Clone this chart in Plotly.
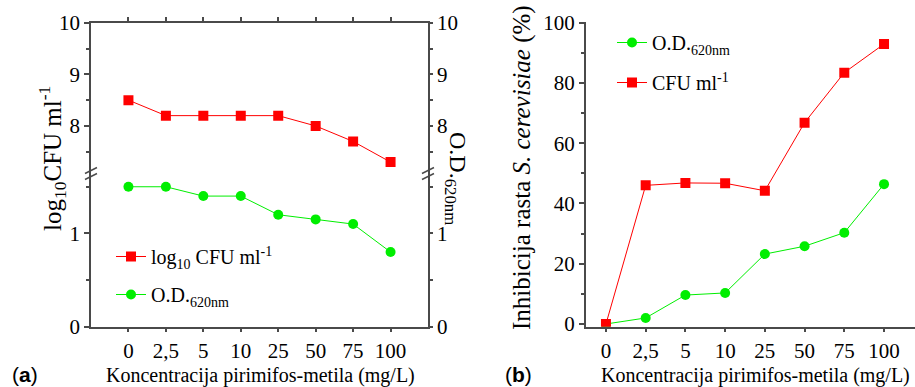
import plotly.graph_objects as go

# Pirimiphos-methyl concentration (mg/L), shown as evenly spaced categories
concentrations = ["0", "2,5", "5", "10", "25", "50", "75", "100"]

# (a) growth of S. cerevisiae
log_cfu = [8.5, 8.2, 8.2, 8.2, 8.2, 8.0, 7.7, 7.3]
od_620 = [1.50, 1.50, 1.40, 1.40, 1.20, 1.15, 1.10, 0.80]

# (b) growth inhibition (%)
inhib_od = [0.0, 2.0, 9.6, 10.3, 23.2, 25.8, 30.3, 46.4]
inhib_cfu = [0.0, 46.0, 46.8, 46.7, 44.2, 66.8, 83.4, 92.9]

W, H = 915, 387
SERIF = "Liberation Serif"
SANS = "Liberation Sans"
AXC = "#4a4a4a"
RED = "#ff0000"
GREEN = "#00ee00"


def px(x):
    return x / W


def py(y):
    return 1 - y / H


def axis(**kw):
    base = dict(
        showline=True, linecolor=AXC, linewidth=1.5,
        ticks="outside", tickcolor=AXC, tickwidth=1.5, ticklen=5,
        showgrid=False, zeroline=False, fixedrange=True, automargin=False,
        tickfont=dict(family=SERIF, size=21, color="black"),
    )
    base.update(kw)
    return base


def cat_axis(**kw):
    return axis(type="category", categoryorder="array",
                categoryarray=concentrations, **kw)


def minor(vals):
    return dict(tickvals=vals, ticks="outside", ticklen=3,
                tickcolor=AXC, tickwidth=1.5)


fig = go.Figure()

# ---- panel (a) ----
fig.add_trace(go.Scatter(
    x=concentrations, y=log_cfu, xaxis="x2", yaxis="y2",
    mode="lines+markers", name="log<sub>10</sub> CFU ml<sup>-1</sup>",
    line=dict(color=RED, width=1),
    marker=dict(symbol="square", size=10, color=RED),
    legend="legend", legendgroup="a_cfu",
))
fig.add_trace(go.Scatter(
    x=concentrations, y=od_620, xaxis="x", yaxis="y",
    mode="lines+markers", name="O.D.<sub>620nm</sub>",
    line=dict(color=GREEN, width=1),
    marker=dict(symbol="circle", size=10, color=GREEN),
    legend="legend", legendgroup="a_od",
))
# carriers for the right-hand axes of panel (a)
fig.add_trace(go.Scatter(
    x=concentrations, y=od_620, xaxis="x", yaxis="y3", mode="lines",
    line=dict(color="rgba(0,0,0,0)"), showlegend=False, hoverinfo="skip",
))
fig.add_trace(go.Scatter(
    x=concentrations, y=log_cfu, xaxis="x2", yaxis="y4", mode="lines",
    line=dict(color="rgba(0,0,0,0)"), showlegend=False, hoverinfo="skip",
))

# ---- panel (b) ----
fig.add_trace(go.Scatter(
    x=concentrations, y=inhib_od, xaxis="x3", yaxis="y5",
    mode="lines+markers", name="O.D.<sub>620nm</sub>",
    line=dict(color=GREEN, width=1),
    marker=dict(symbol="circle", size=10, color=GREEN),
    legend="legend2", legendgroup="b_od",
))
fig.add_trace(go.Scatter(
    x=concentrations, y=inhib_cfu, xaxis="x3", yaxis="y5",
    mode="lines+markers", name="CFU ml<sup>-1</sup>",
    line=dict(color=RED, width=1),
    marker=dict(symbol="square", size=10, color=RED),
    legend="legend2", legendgroup="b_cfu",
))

A_X = [px(91), px(428)]
A_LOW = [py(326.7), py(175)]
A_UP = [py(175), py(22.7)]
low_range = [0, 1.626]
up_range = [7.05, 10]

fig.update_layout(
    template="none",
    width=W, height=H,
    margin=dict(l=0, r=0, t=0, b=0, autoexpand=False),
    paper_bgcolor="white", plot_bgcolor="white",
    hovermode=False,
    xaxis=cat_axis(domain=A_X, anchor="y", range=[-1, 8], ticklen=4),
    xaxis2=cat_axis(domain=A_X, anchor="y2", side="top", range=[-1, 8],
                    showticklabels=False, ticklen=4),
    yaxis=axis(domain=A_LOW, anchor="x", range=low_range,
               tickvals=[0, 1], minor=minor([0.5, 1.5])),
    yaxis2=axis(domain=A_UP, anchor="x2", range=up_range,
                tickvals=[8, 9, 10], minor=minor([7.5, 8.5, 9.5])),
    yaxis3=axis(overlaying="y", side="right", anchor="x", range=low_range,
                tickvals=[0, 1], minor=minor([0.5, 1.5]), ticklen=3),
    yaxis4=axis(overlaying="y2", side="right", anchor="x2", range=up_range,
                tickvals=[8, 9, 10], minor=minor([7.5, 8.5, 9.5]), ticklen=3),
    xaxis3=cat_axis(domain=[px(585.7), 1.0], anchor="y5",
                    range=[-0.51, 7.78], ticklen=4),
    yaxis5=axis(domain=[py(326.7), py(22)], anchor="x3",
                range=[-0.9, 100.2], tickvals=[0, 20, 40, 60, 80, 100],
                minor=minor([10, 30, 50, 70, 90])),
    legend=dict(x=px(111), y=py(237), xanchor="left", yanchor="top",
                bgcolor="rgba(0,0,0,0)", tracegroupgap=9,
                font=dict(family=SERIF, size=20, color="black")),
    legend2=dict(x=px(612), y=py(23), xanchor="left", yanchor="top",
                 bgcolor="rgba(0,0,0,0)", tracegroupgap=11,
                 font=dict(family=SERIF, size=20, color="black")),
)

# axis break marks on panel (a)
for xb in (91, 428):
    for yb in (170.5, 176.5):
        fig.add_shape(type="line", xref="paper", yref="paper",
                      x0=px(xb - 6), y0=py(yb + 3), x1=px(xb + 6), y1=py(yb - 3),
                      line=dict(color=AXC, width=1.5))

title_font = dict(family=SERIF, size=20, color="black")
ytitle_font = dict(family=SERIF, size=25, color="black")
ann = [
    dict(text="(<b>a</b>)", x=px(10), y=py(374), xanchor="left",
         font=dict(family=SANS, size=21, color="black")),
    dict(text="(<b>b</b>)", x=px(503), y=py(374), xanchor="left",
         font=dict(family=SANS, size=21, color="black")),
    dict(text="Koncentracija pirimifos-metila (mg/L)", x=px(260), y=py(375),
         xanchor="center", font=title_font),
    dict(text="Koncentracija pirimifos-metila (mg/L)", x=px(755), y=py(375),
         xanchor="center", font=title_font),
    dict(text="log<sub>10</sub>CFU ml<sup>-1</sup>", x=px(52), y=py(159),
         xanchor="center", textangle=-90, font=ytitle_font),
    dict(text="O.D.<sub>620nm</sub>", x=px(456), y=py(178),
         xanchor="center", textangle=90,
         font=dict(family=SERIF, size=24, color="black")),
    dict(text="Inhibicija rasta <i>S. cerevisiae</i> (%)", x=px(522), y=py(168),
         xanchor="center", textangle=-90, font=ytitle_font),
]
for a in ann:
    a.update(xref="paper", yref="paper", showarrow=False, yanchor="middle")
    fig.add_annotation(**a)

fig.write_html("out.html")
